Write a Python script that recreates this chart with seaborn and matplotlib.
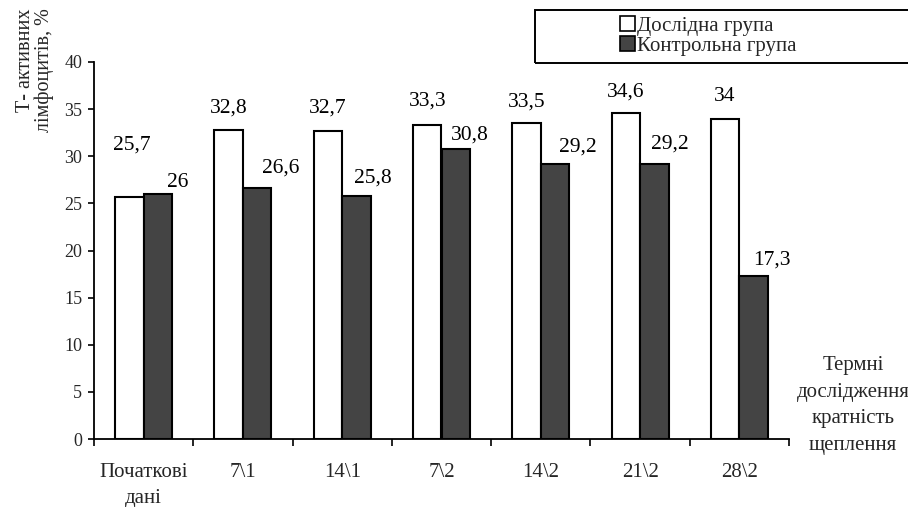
import matplotlib
matplotlib.use("Agg")
import matplotlib.pyplot as plt
import matplotlib.patches as mpatches
import seaborn as sns
import pandas as pd

# Data
terms = ["Початкові\nдані", "7\\1", "14\\1", "7\\2", "14\\2", "21\\2", "28\\2"]
groups = ["Дослідна група", "Контрольна група"]
experimental = [25.7, 32.8, 32.7, 33.3, 33.5, 34.6, 34.0]
control = [26.0, 26.6, 25.8, 30.8, 29.2, 29.2, 17.3]
value_text_exp = ["25,7", "32,8", "32,7", "33,3", "33,5", "34,6", "34"]
value_text_ctl = ["26", "26,6", "25,8", "30,8", "29,2", "29,2", "17,3"]

# Label offsets from the bar top centre (pixels: dx, dy)
offs_exp = [(2, 52), (0, 22), (0, 23), (0, 24), (0, 21), (0, 21), (0, 22)]
offs_ctl = [(20, 11), (23, 20), (16, 18), (14, 14), (23, 17), (15, 20), (18, 16)]

df = pd.DataFrame({
    "term": terms * 2,
    "group": [groups[0]] * len(terms) + [groups[1]] * len(terms),
    "value": experimental + control,
})

sns.set_theme(style="white")
plt.rcParams["font.family"] = ["Liberation Serif", "DejaVu Serif"]

DPI = 100
fig = plt.figure(figsize=(9.08, 5.07), dpi=DPI)
ax = fig.add_axes([94 / 908, 68 / 507, (789 - 94) / 908, (439 - 62) / 507])

dark = "#444444"
sns.barplot(data=df, x="term", y="value", hue="group", order=terms,
            hue_order=groups, palette=["white", dark], edgecolor="black",
            linewidth=1.5, width=0.575, saturation=1, legend=False, ax=ax)

ax.set_xlim(-0.5, len(terms) - 0.5)
ax.set_ylim(0, 40)
ax.set_yticks(range(0, 41, 5))
ax.set_xlabel("")
ax.set_ylabel("")

for s in ["top", "right"]:
    ax.spines[s].set_visible(False)
for s in ["left", "bottom"]:
    ax.spines[s].set_color("black")
    ax.spines[s].set_linewidth(1.3)

ax.tick_params(axis="y", which="major", direction="out", length=4.5, width=1.2,
               color="black", labelsize=13, pad=4, left=True)
ax.set_xticks([i - 0.5 for i in range(len(terms) + 1)], minor=True)
ax.tick_params(axis="x", which="minor", direction="out", length=5, width=1.2,
               color="black", bottom=True)
ax.tick_params(axis="x", which="major", length=0, labelsize=15, pad=17)
for lab in ax.get_xticklabels():
    lab.set_linespacing(1.5)

# Value labels
pt = 72 / DPI
for cont, texts, offs in [(ax.containers[0], value_text_exp, offs_exp),
                          (ax.containers[1], value_text_ctl, offs_ctl)]:
    for bar, t, (dx, dy) in zip(cont, texts, offs):
        xc = bar.get_x() + bar.get_width() / 2
        ax.annotate(t, (xc, bar.get_height()), xytext=(dx * pt, dy * pt),
                    textcoords="offset points", ha="center", va="center",
                    fontsize=15.5, color="black", annotation_clip=False)

# Axis titles
fig.text(35 / 908, 1 - 8 / 507, "Т- активних\nлімфоцитів, %", rotation=90,
         ha="center", va="top", multialignment="right", fontsize=14.5,
         linespacing=1.0)
fig.text(853 / 908, 1 - 356 / 507, "Термні\nдослідження\nкратність\nщеплення",
         ha="center", va="top", fontsize=15, linespacing=1.55)

# Legend
handles = [mpatches.Patch(facecolor="white", edgecolor="black", linewidth=1.2),
           mpatches.Patch(facecolor=dark, edgecolor="black", linewidth=1.2)]
leg = fig.legend(handles, groups, loc="center left",
                 bbox_to_anchor=(620 / 908, 1 - 36 / 507), frameon=False,
                 fontsize=15, handlelength=0.7, handleheight=0.7,
                 handletextpad=0.12, labelspacing=0.0, borderpad=0,
                 borderaxespad=0)
fig.patches.append(mpatches.Rectangle((535 / 908, 1 - 63 / 507),
                                      400 / 908, 53 / 507,
                                      transform=fig.transFigure, fill=False,
                                      edgecolor="black", linewidth=1.4))

fig.savefig("out.png", dpi=DPI)
